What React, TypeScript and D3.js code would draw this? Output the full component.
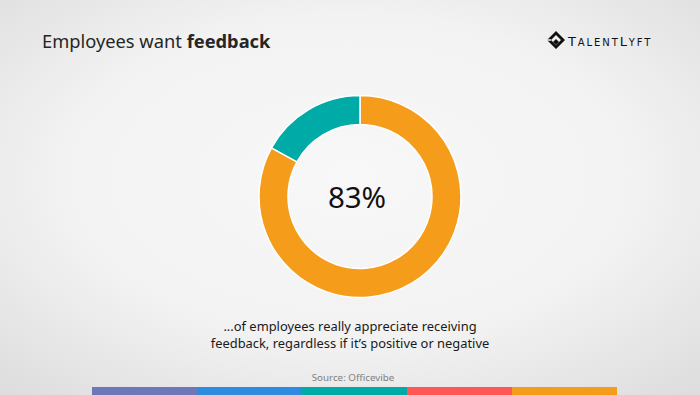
import React from 'react';
import * as d3 from 'd3';

const sliceLabels = ['Appreciate feedback', 'Other'];
const sliceValues = [83, 17];
const sliceColors = ['#f59c1b', '#00aaa7'];
const stripeColors = ['#6e78b8', '#2e8be0', '#00aaa7', '#ff5854', '#f59c1b'];
const centerLabel = '83%';
const captionLines = [
    '...of employees really appreciate receiving',
    'feedback, regardless if it\u2019s positive or negative',
];
const sourceText = 'Source: Officevibe';

const font = "'Noto Sans', 'Open Sans', sans-serif";

function Logo() {
    // diamond mark + small-caps wordmark
    return (
        <g>
            <g transform="translate(556,40)">
                <path d="M0,-9 L9,0 L0,9 L-9,0 Z M0,-5 L-5,0 L0,5 L5,0 Z" fill="#111" fillRule="evenodd" />
                <path d="M0,-1 L3,2 L0,5 L-3,2 Z" fill="#111" />
                <path d="M-9,0 L-5,0" stroke="#f2f2f2" strokeWidth="1.5" />
            </g>
            <text x={568} y={45.5} fill="#111" fontFamily="'DejaVu Sans', sans-serif" letterSpacing="1.9">
                <tspan fontSize="13">T</tspan>
                <tspan fontSize="10">ALENT</tspan>
                <tspan fontSize="13">L</tspan>
                <tspan fontSize="10">YFT</tspan>
            </text>
        </g>
    );
}

export default function App() {
    const width = 700;
    const height = 395;
    const cx = 360;
    const cy = 196.5;
    const outerR = 101;
    const innerR = 72;

    const pie = d3.pie<number>().sort(null).value(d => d);
    const arcs = pie(sliceValues);
    const arc = d3.arc<d3.PieArcDatum<number>>().innerRadius(innerR).outerRadius(outerR);

    const stripe = d3.scaleBand<number>()
        .domain(stripeColors.map((_, i) => i))
        .range([92, 617])
        .padding(0);

    return (
        <svg width={width} height={height} style={{ position: 'absolute', left: 0, top: 0 }}>
            <defs>
                <radialGradient id="bg" cx="50%" cy="45%" r="75%">
                    <stop offset="0%" stopColor="#f8f8f8" />
                    <stop offset="55%" stopColor="#f2f2f2" />
                    <stop offset="100%" stopColor="#dcdcdc" />
                </radialGradient>
            </defs>
            <rect width={width} height={height} fill="url(#bg)" />

            <text x={42} y={48} fontFamily={font} fontSize="18.3" fill="#262626">
                Employees want <tspan fontWeight="bold">feedback</tspan>
            </text>

            <Logo />

            <g transform={`translate(${cx},${cy})`}>
                {arcs.map((a, i) => (
                    <path key={sliceLabels[i]} d={arc(a) || ''} fill={sliceColors[i]} stroke="#ffffff" strokeWidth="1.5" />
                ))}
                <text x={-3} y={11} textAnchor="middle" fontFamily={font} fontSize="29.5" fill="#111">
                    {centerLabel}
                </text>
            </g>

            {captionLines.map((line, i) => (
                <text key={i} x={350} y={331 + i * 16.5} textAnchor="middle" fontFamily={font} fontSize="12.9" fill="#1a1a1a">
                    {line}
                </text>
            ))}

            <text x={353} y={381} textAnchor="middle" fontFamily={font} fontSize="9.8" fill="#7f7f7f">
                {sourceText}
            </text>

            {stripeColors.map((c, i) => (
                <rect key={i} x={stripe(i)} y={387} width={stripe.bandwidth()} height={8} fill={c} />
            ))}
        </svg>
    );
}
